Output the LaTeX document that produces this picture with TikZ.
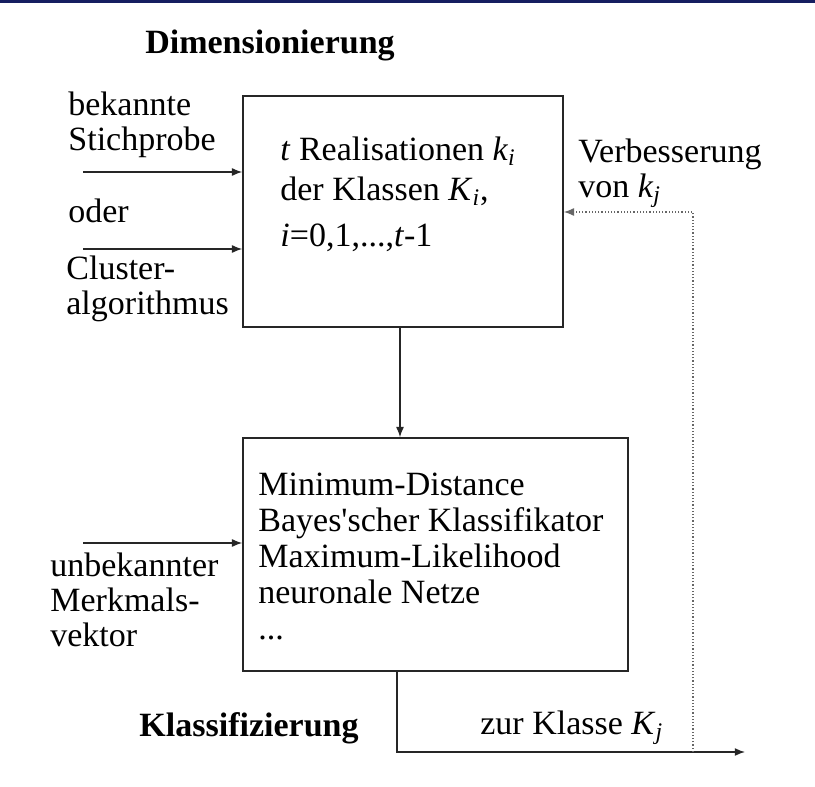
\documentclass[tikz,border=0pt]{standalone}
\usepackage{fontspec}
\setmainfont{Liberation Serif}
\usepackage{xcolor}
\usepackage{tikz}
\usetikzlibrary{positioning,arrows.meta}
\definecolor{RuleBlue}{RGB}{22,30,96}
\newcommand{\iv}[1]{\textit{#1}}
\newcommand{\sub}[2]{\textit{#1}\textsubscript{\textit{#2}}}

\begin{document}
\begin{tikzpicture}[
x=0.5pt, y=-0.5pt,
node distance=0.65cm,
box/.style={draw=black!85, line width=0.8pt, minimum width=#1, inner sep=0pt},
txt/.style={font=\fontsize{17}{17.5}\selectfont, inner sep=0pt, align=left},
head/.style={font=\fontsize{17}{18}\selectfont\bfseries, inner sep=0pt},
arrow/.style={-{Latex[length=1.8mm,width=1.4mm]}, line width=0.6pt, black!85},
fback/.style={-{Latex[length=1.8mm,width=1.4mm]}, line width=0.6pt, black!60, densely dotted}
]
\useasboundingbox (0,0) rectangle (815,787);
\draw[RuleBlue, line width=1.5pt] (0,1) -- (815,1);

% blocks
\node[box=160pt, minimum height=115.5pt] (dim) at (403,211.5) {};
\node[box=192.5pt, minimum height=116.5pt] (cls) at (435.5,554.5) {};

\node[txt, anchor=west] (dimtext) at (280,194) {\iv{t} Realisationen \sub{k}{i}\\[2.5pt]der Klassen \sub{K}{i},\\[5.5pt]\iv{i}=0,1,...,\iv{t}-1};
\node[txt, anchor=west, font=\fontsize{17}{18}\selectfont] (clstext) at (258,556) {Minimum-Distance\\Bayes\textquotesingle scher Klassifikator\\Maximum-Likelihood\\neuronale Netze\\...};

% headings
\node[head] (dimhead) at (270,45) {Dimensionierung};
\node[head] (clshead) at (249,728) {Klassifizierung};

% inputs
\node[txt, anchor=west] (sample) at (68,124.5) {bekannte\\Stichprobe};
\node[txt, anchor=west] (oder) at (68,211) {oder};
\node[txt, anchor=west] (cluster) at (66,288.5) {Cluster-\\algorithmus};
\node[txt, anchor=west] (vector) at (50,600) {unbekannter\\Merkmals-\\vektor};

\coordinate (in1) at (83,172);
\coordinate (in2) at (83,249);
\coordinate (in3) at (83,543);
\draw[arrow] (in1) -- (in1 -| dim.west);
\draw[arrow] (in2) -- (in2 -| dim.west);
\draw[arrow] (in3) -- (in3 -| cls.west);

\coordinate (down) at (400,327);
\draw[arrow] (down) -- (down |- cls.north);

% output and feedback
\coordinate (tap) at (397,671);
\coordinate (out) at (745,752);
\coordinate (fb) at (693,752);
\coordinate (fbin) at (563,212);
\draw[arrow] (tap) |- (out);
\draw[fback] (fb) |- (fbin -| dim.east);

\node[txt, anchor=west] (better) at (578,173) {Verbesserung\\von \sub{k}{j}};
\node[txt, anchor=west] (result) at (480,728) {zur Klasse \sub{K}{j}};
\end{tikzpicture}
\end{document}
